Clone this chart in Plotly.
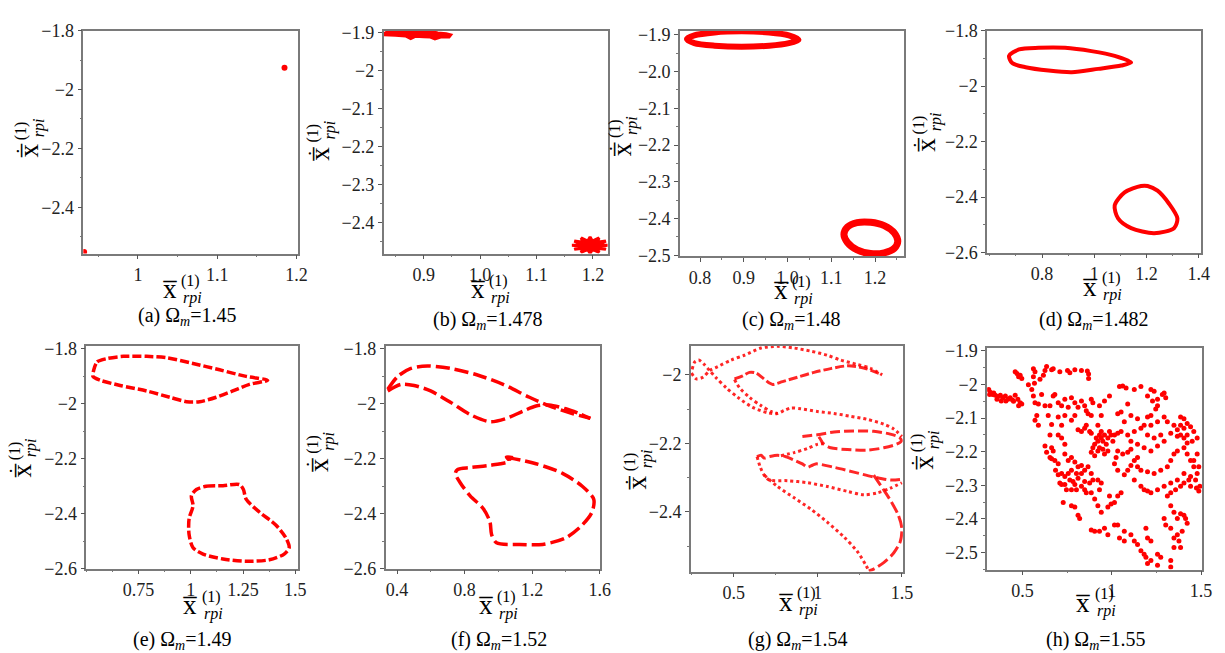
import plotly.graph_objects as go

W, H = 1225, 653
RED = 'rgb(255,0,0)'
FONT = 'Liberation Serif'
M = '\u2212'

# ---------------- data ----------------
# (a) Omega_m = 1.45 : two fixed points
a_x = [1.185, 0.932]
a_y = [-1.926, -2.552]

# (b) Omega_m = 1.478 : two star-like clusters (outline points)
b_up_x = [0.832, 0.855, 0.870, 0.885, 0.900, 0.910, 0.925, 0.940, 0.948,
          0.945, 0.930, 0.920, 0.912, 0.900, 0.885, 0.877, 0.868, 0.850, 0.832]
b_up_y = [-1.898, -1.897, -1.895, -1.897, -1.899, -1.896, -1.901, -1.903, -1.906,
          -1.912, -1.912, -1.917, -1.912, -1.911, -1.910, -1.916, -1.909, -1.907, -1.906]
b_lo_x = [1.227, 1.211, 1.223, 1.207, 1.211, 1.199, 1.195, 1.191, 1.179, 1.183, 1.167, 1.179,
          1.163, 1.179, 1.167, 1.183, 1.179, 1.191, 1.195, 1.199, 1.211, 1.207, 1.223, 1.211]
b_lo_y = [-2.460, -2.457, -2.449, -2.452, -2.441, -2.449, -2.438, -2.449, -2.441, -2.452, -2.449, -2.457,
          -2.460, -2.463, -2.471, -2.468, -2.479, -2.471, -2.482, -2.471, -2.479, -2.468, -2.471, -2.463]

# (c) Omega_m = 1.48 : two thick rings
c_up_x = [1.025, 1.003, 0.958, 0.895, 0.833, 0.787, 0.770, 0.787, 0.833, 0.895, 0.958, 1.003]
c_up_y = [-1.914, -1.902, -1.894, -1.891, -1.894, -1.902, -1.912, -1.923, -1.930, -1.933, -1.930, -1.923]
c_lo_x = [1.252, 1.244, 1.221, 1.190, 1.159, 1.137, 1.129, 1.137, 1.159, 1.190, 1.221, 1.244]
c_lo_y = [-2.462, -2.439, -2.419, -2.410, -2.411, -2.423, -2.443, -2.465, -2.485, -2.495, -2.493, -2.481]

# (d) Omega_m = 1.482 : two closed curves
d_up_x = [0.674, 0.712, 0.787, 0.888, 0.989, 1.078, 1.141, 1.103, 1.015, 0.914, 0.825, 0.737, 0.686]
d_up_y = [-1.891, -1.868, -1.862, -1.862, -1.874, -1.891, -1.915, -1.926, -1.938, -1.950, -1.944, -1.932, -1.917]
d_lo_x = [1.179, 1.116, 1.078, 1.091, 1.141, 1.229, 1.305, 1.318, 1.286, 1.242, 1.204]
d_lo_y = [-2.360, -2.383, -2.430, -2.477, -2.512, -2.530, -2.512, -2.477, -2.424, -2.377, -2.360]

# (e) Omega_m = 1.49
e_up_x = [0.536, 0.552, 0.599, 0.678, 0.789, 0.884, 1.011, 1.138, 1.265, 1.368,
          1.281, 1.201, 1.122, 1.043, 0.979, 0.900, 0.789, 0.662, 0.567, 0.532]
e_up_y = [-1.876, -1.847, -1.835, -1.827, -1.827, -1.832, -1.853, -1.876, -1.900, -1.914,
          -1.929, -1.953, -1.976, -1.992, -1.992, -1.976, -1.953, -1.933, -1.914, -1.900]
e_lo_x = [1.027, 1.074, 1.154, 1.233, 1.252, 1.265, 1.328, 1.407, 1.455, 1.471, 1.447, 1.376,
          1.265, 1.154, 1.059, 1.011, 0.992, 0.992, 1.011, 1.003]
e_lo_y = [-2.312, -2.300, -2.298, -2.294, -2.312, -2.347, -2.394, -2.441, -2.488, -2.524, -2.547, -2.568,
          -2.573, -2.565, -2.547, -2.524, -2.476, -2.418, -2.371, -2.335]

# (f) Omega_m = 1.52
f_a_x = [0.345, 0.404, 0.482, 0.580, 0.716, 0.872, 1.028, 1.184, 1.321, 1.438, 1.545]
f_a_y = [-1.947, -1.900, -1.871, -1.862, -1.871, -1.894, -1.929, -1.976, -2.012, -2.035, -2.053]
f_b_x = [0.345, 0.423, 0.501, 0.599, 0.716, 0.833, 0.950, 1.048, 1.145, 1.223, 1.301, 1.399, 1.477, 1.545]
f_b_y = [-1.953, -1.929, -1.933, -1.953, -1.994, -2.039, -2.065, -2.053, -2.027, -2.008, -2.004, -2.018, -2.035, -2.053]
f_c_x = [1.048, 1.223, 1.380, 1.497, 1.565, 1.555, 1.497, 1.399, 1.262, 1.126, 0.989, 0.960,
         0.950, 0.911, 0.833, 0.775, 0.745, 0.759, 0.833, 0.950, 1.067, 1.048, 1.087]
f_c_y = [-2.194, -2.218, -2.253, -2.300, -2.347, -2.394, -2.441, -2.488, -2.512, -2.512, -2.506, -2.476,
         -2.429, -2.382, -2.335, -2.288, -2.253, -2.239, -2.232, -2.224, -2.208, -2.194, -2.196]

# (g) Omega_m = 1.54 : several branches of the attractor
g_paths = [
    ([0.248, 0.277, 0.317, 0.356, 0.405, 0.484, 0.563, 0.662, 0.760, 0.859, 0.958, 1.056, 1.135, 1.234, 1.313, 1.382],
     [-1.995, -2.012, -2.007, -1.988, -1.976, -1.957, -1.943, -1.922, -1.917, -1.922, -1.931, -1.943, -1.957, -1.970, -1.981, -2.000]),
    ([0.252, 0.267, 0.291, 0.322, 0.356, 0.395, 0.455, 0.524, 0.612, 0.701, 0.760, 0.800, 0.839, 0.898, 0.997, 1.096, 1.194, 1.293, 1.392, 1.451, 1.500],
     [-1.984, -1.963, -1.957, -1.969, -1.988, -2.009, -2.038, -2.066, -2.095, -2.111, -2.113, -2.104, -2.097, -2.099, -2.107, -2.113, -2.121, -2.130, -2.144, -2.158, -2.180]),
    ([0.504, 0.553, 0.593, 0.632, 0.672, 0.711, 0.731, 0.790, 0.879, 0.977, 1.076, 1.175, 1.273, 1.382],
     [-2.012, -2.003, -1.993, -1.995, -2.009, -2.024, -2.028, -2.020, -2.007, -1.993, -1.982, -1.974, -1.980, -2.000]),
    ([0.504, 0.534, 0.593, 0.662, 0.721, 0.760],
     [-2.014, -2.038, -2.066, -2.090, -2.107, -2.113]),
    ([0.908, 0.958, 0.997, 1.096, 1.214, 1.332, 1.431, 1.486, 1.496, 1.466, 1.392, 1.293, 1.175, 1.076, 1.033, 1.013, 0.997],
     [-2.180, -2.177, -2.175, -2.167, -2.164, -2.165, -2.173, -2.183, -2.194, -2.203, -2.213, -2.220, -2.218, -2.213, -2.201, -2.186, -2.175]),
    ([0.780, 0.859, 0.938, 0.997, 1.033],
     [-2.236, -2.227, -2.215, -2.203, -2.201]),
    ([0.638, 0.662, 0.681, 0.711, 0.760, 0.810, 0.859, 0.908, 0.938, 0.962, 0.987, 1.096, 1.214, 1.332, 1.431, 1.500],
     [-2.239, -2.235, -2.243, -2.239, -2.235, -2.239, -2.249, -2.260, -2.270, -2.265, -2.260, -2.270, -2.284, -2.298, -2.307, -2.305]),
    ([0.638, 0.658, 0.681, 0.711, 0.820, 0.938, 1.056, 1.175, 1.273, 1.352, 1.431, 1.500],
     [-2.239, -2.270, -2.293, -2.307, -2.309, -2.315, -2.326, -2.340, -2.350, -2.345, -2.331, -2.315]),
    ([0.681, 0.760, 0.859, 0.958, 1.056, 1.155, 1.234, 1.283, 1.303],
     [-2.293, -2.326, -2.359, -2.392, -2.430, -2.473, -2.515, -2.553, -2.572]),
    ([1.332, 1.392, 1.441, 1.480, 1.500, 1.490, 1.451, 1.392, 1.332, 1.303],
     [-2.293, -2.336, -2.374, -2.411, -2.449, -2.487, -2.520, -2.548, -2.567, -2.572]),
]
g_styles = ['3px,3px', '3px,3px', '9px,3px', '3px,3px', '10px,4px', '3px,3px',
            '10px,4px', '3px,3px', '3px,3px', '12px,4px']

# (h) Omega_m = 1.55 : chaotic scatter
h_x = [0.311, 0.320, 0.333, 0.348, 0.363, 0.376, 0.389, 0.404, 0.419, 0.431, 0.444, 0.459, 0.474, 0.487, 0.496,
       0.478, 0.450, 0.407, 0.381, 0.357, 0.339, 0.315,
       0.459, 0.469, 0.487, 0.496, 0.561, 0.570, 0.561, 0.626, 0.617, 0.672, 0.709, 0.752, 0.765, 0.793,
       0.830, 0.863, 0.870, 0.870, 0.635, 0.663, 0.598, 0.533, 0.567, 0.478,
       0.552, 0.561, 0.570, 0.589, 0.607, 0.626, 0.654, 0.672, 0.681, 0.700, 0.719, 0.737, 0.756, 0.774,
       0.793, 0.811, 0.830, 0.848, 0.857, 0.885, 0.894, 0.885, 0.867, 0.931, 0.941, 0.959, 0.580, 0.570,
       0.589, 0.644, 0.663, 0.700, 0.719, 0.737, 0.774, 0.793, 0.811, 0.830, 0.848, 0.857, 0.876, 0.885,
       0.922, 0.700, 0.719, 0.737, 0.654,
       0.913, 0.922, 0.931, 0.941, 0.950, 0.959, 0.969, 0.978, 0.931, 0.950, 0.959, 0.978, 0.996, 0.987,
       1.015, 0.941, 0.904, 0.894, 0.885, 0.904, 0.922, 1.006, 1.033, 1.052,
       0.737, 0.756, 0.774, 0.793, 0.811, 0.830, 0.802, 0.774, 0.756, 0.737, 0.765, 0.783, 0.811, 0.830,
       0.848, 0.867, 0.885, 0.894, 0.876, 0.848, 0.830, 0.802, 0.774, 0.746, 0.719, 0.700, 0.681, 0.672,
       0.663, 0.626, 0.635, 0.654, 0.663, 0.685, 0.700, 0.709, 0.719, 0.737, 0.793, 0.848, 0.857, 0.885,
       0.922, 0.941, 0.931, 0.904, 0.922, 0.941, 0.987, 0.978, 0.996, 1.015, 1.033, 1.052,
       0.728, 0.774, 0.793, 0.811, 0.820, 0.885, 0.904, 0.931, 0.959, 0.978, 1.015, 1.033, 1.070, 1.043,
       1.070, 1.107, 1.126, 1.144, 1.163, 1.181, 1.191, 1.200, 1.219, 1.256, 1.330, 1.330, 1.274, 1.256,
       1.219, 1.200, 1.191,
       0.987, 1.043, 1.061, 1.080, 1.126, 1.163, 1.089, 1.052, 1.033, 1.070, 1.107, 1.144, 1.181, 1.219,
       1.237, 1.200, 1.228, 1.256, 1.283, 1.293, 1.302, 1.256, 1.246, 1.219, 1.200, 1.293, 1.311, 1.348,
       1.367, 1.385, 1.404, 1.422, 1.367, 1.330, 1.293, 1.256, 1.219, 1.181, 1.144, 1.107, 1.089, 1.126,
       1.163, 1.200, 1.237, 1.274, 1.219, 1.256, 1.144, 1.126, 1.107, 1.089, 1.144, 1.163, 1.200, 1.237,
       1.274, 1.311, 1.330, 1.348, 1.367, 1.404, 1.422, 1.441, 1.459, 1.478, 1.469, 1.441, 1.404, 1.367,
       1.330, 1.293, 1.256, 1.219, 1.200, 1.181, 1.163, 1.126, 1.070, 1.033, 1.015, 1.024, 1.061, 1.089,
       1.107, 1.033,
       1.385, 1.404, 1.422, 1.441, 1.459, 1.478, 1.450, 1.422, 1.404, 1.385, 1.478, 1.459, 1.487, 1.431,
       1.404, 1.385, 1.357, 1.330, 1.311, 1.441, 1.474, 1.493, 1.487, 1.330, 1.348, 1.367, 1.385, 1.404,
       1.422, 1.394, 1.367, 1.348, 1.330, 1.293, 1.302, 1.348, 1.385, 1.376, 1.413]
h_y = [-2.015, -2.023, -2.030, -2.032, -2.036, -2.032, -2.039, -2.034, -2.044, -2.039, -2.046, -2.032, -2.044, -2.054, -2.058,
       -2.063, -2.050, -2.049, -2.049, -2.044, -2.025, -2.030,
       -1.962, -1.967, -1.972, -1.982, -1.953, -1.962, -1.977, -1.958, -1.972, -1.953, -1.962, -1.958, -1.965, -1.956,
       -1.958, -1.960, -1.969, -1.982, -1.946, -1.956, -1.984, -2.001, -1.996, -1.977,
       -2.015, -2.034, -2.054, -2.058, -2.030, -2.063, -2.063, -2.034, -2.030, -2.054, -2.063, -2.044, -2.068, -2.039,
       -2.054, -2.068, -2.049, -2.063, -2.078, -2.044, -2.054, -2.092, -2.087, -2.063, -2.092, -2.049, -2.092, -2.106,
       -2.121, -2.092, -2.119, -2.097, -2.121, -2.092, -2.106, -2.092, -2.135, -2.140, -2.130, -2.121, -2.140, -2.145,
       -2.121, -2.150, -2.159, -2.178, -2.150,
       -2.159, -2.169, -2.150, -2.159, -2.169, -2.150, -2.178, -2.159, -2.188, -2.193, -2.207, -2.198, -2.150, -2.140,
       -2.150, -2.140, -2.178, -2.188, -2.202, -2.212, -2.198, -2.169, -2.145, -2.140,
       -2.207, -2.226, -2.217, -2.231, -2.245, -2.241, -2.265, -2.255, -2.265, -2.274, -2.284, -2.289, -2.279, -2.265,
       -2.255, -2.245, -2.265, -2.284, -2.293, -2.289, -2.303, -2.313, -2.313, -2.313, -2.265, -2.236, -2.226, -2.198,
       -2.188, -2.183, -2.202, -2.217, -2.221, -2.255, -2.269, -2.293, -2.298, -2.298, -2.298, -2.313, -2.322, -2.322,
       -2.284, -2.293, -2.313, -2.341, -2.361, -2.380, -2.332, -2.365, -2.356, -2.351, -2.332, -2.322,
       -2.351, -2.361, -2.365, -2.389, -2.399, -2.433, -2.437, -2.437, -2.428, -2.447, -2.418, -2.418, -2.437, -2.457,
       -2.466, -2.447, -2.466, -2.476, -2.495, -2.505, -2.514, -2.533, -2.524, -2.538, -2.543, -2.524, -2.514, -2.505,
       -2.466, -2.457, -2.428,
       -2.034, -2.006, -2.004, -2.010, -2.015, -2.006, -2.058, -2.082, -2.087, -2.111, -2.092, -2.102, -2.121, -2.015,
       -2.020, -2.034, -2.049, -2.044, -2.030, -2.025, -2.039, -2.063, -2.073, -2.092, -2.097, -2.097, -2.111, -2.121,
       -2.135, -2.150, -2.159, -2.174, -2.154, -2.145, -2.169, -2.183, -2.198, -2.188, -2.178, -2.169, -2.150, -2.140,
       -2.130, -2.150, -2.159, -2.150, -2.121, -2.111, -2.217, -2.226, -2.241, -2.255, -2.245, -2.255, -2.260, -2.265,
       -2.255, -2.245, -2.226, -2.207, -2.198, -2.188, -2.207, -2.226, -2.245, -2.265, -2.284, -2.274, -2.265, -2.284,
       -2.293, -2.303, -2.313, -2.322, -2.317, -2.313, -2.303, -2.284, -2.269, -2.255, -2.236, -2.217, -2.207, -2.202,
       -2.193, -2.198,
       -2.097, -2.102, -2.116, -2.126, -2.140, -2.159, -2.169, -2.150, -2.130, -2.121, -2.207, -2.226, -2.245, -2.284,
       -2.293, -2.303, -2.313, -2.322, -2.332, -2.303, -2.308, -2.303, -2.317, -2.361, -2.380, -2.399, -2.385, -2.389,
       -2.413, -2.437, -2.447, -2.457, -2.428, -2.399, -2.418, -2.485, -2.485, -2.466, -2.399]

captions = ['(a)', '(b)', '(c)', '(d)', '(e)', '(f)', '(g)', '(h)']
omegas = ['1.45', '1.478', '1.48', '1.482', '1.49', '1.52', '1.54', '1.55']

# tick values and labels
x_tickvals = [[1, 1.1, 1.2], [0.9, 1.0, 1.1, 1.2], [0.8, 0.9, 1.0, 1.1, 1.2], [0.8, 1, 1.2, 1.4],
              [0.75, 1, 1.25, 1.5], [0.4, 0.8, 1.2, 1.6], [0.5, 1, 1.5], [0.5, 1, 1.5]]
x_ticktext = [['1', '1.1', '1.2'], ['0.9', '1.0', '1.1', '1.2'], ['0.8', '0.9', '1.0', '1.1', '1.2'],
              ['0.8', '1', '1.2', '1.4'], ['0.75', '1', '1.25', '1.5'], ['0.4', '0.8', '1.2', '1.6'],
              ['0.5', '1', '1.5'], ['0.5', '1', '1.5']]
y_tickvals = [[-1.8, -2, -2.2, -2.4], [-1.9, -2, -2.1, -2.2, -2.3, -2.4], [-1.9, -2.0, -2.1, -2.2, -2.3, -2.4, -2.5],
              [-1.8, -2, -2.2, -2.4, -2.6], [-1.8, -2, -2.2, -2.4, -2.6], [-1.8, -2, -2.2, -2.4, -2.6],
              [-2, -2.2, -2.4], [-1.9, -2, -2.1, -2.2, -2.3, -2.4, -2.5]]
y_ticktext = [[M + '1.8', M + '2', M + '2.2', M + '2.4'],
              [M + '1.9', M + '2', M + '2.1', M + '2.2', M + '2.3', M + '2.4'],
              [M + '1.9', M + '2.0', M + '2.1', M + '2.2', M + '2.3', M + '2.4', M + '2.5'],
              [M + '1.8', M + '2', M + '2.2', M + '2.4', M + '2.6'],
              [M + '1.8', M + '2', M + '2.2', M + '2.4', M + '2.6'],
              [M + '1.8', M + '2', M + '2.2', M + '2.4', M + '2.6'],
              [M + '2', M + '2.2', M + '2.4'],
              [M + '1.9', M + '2', M + '2.1', M + '2.2', M + '2.3', M + '2.4', M + '2.5']]
x_minor = [0.05, 0.05, 0.05, 0.1, 0.125, 0.2, 0.25, 0.25]
y_minor = [0.1, 0.05, 0.05, 0.1, 0.1, 0.1, 0.1, 0.05]

# ---------------- layout geometry ----------------
# plot boxes in pixels: left, right, top, bottom
boxes = [(76, 293, 13, 243), (379, 605, 13, 243), (678, 904, 13, 246), (988, 1204, 13, 242),
         (79, 293, 338, 568), (381, 597, 338, 568), (689, 903, 338, 571), (988, 1205, 340, 569)]
xranges = [(0.931, 1.2025), (0.829, 1.226), (0.754, 1.266), (0.59, 1.409),
           (0.5, 1.515), (0.332, 1.6), (0.244, 1.506), (0.302, 1.506)]
yranges = [(-2.557, -1.8), (-2.482, -1.895), (-2.503, -1.889), (-2.6, -1.8),
           (-2.6, -1.788), (-2.6, -1.788), (-2.574, -1.915), (-2.551, -1.89)]
xtitle_pos = [(163, 283), (474, 283), (780, 284), (1092, 280), (184, 609), (482, 609), (785, 605), (1085, 606)]
ytitle_pos = [(24, 137), (318, 140), (622, 135), (929, 131), (17, 467), (317, 461), (638, 479), (927, 459)]
caption_pos = [(181, 308), (484, 312), (790, 312), (1096, 312), (176, 642), (495, 642), (797, 642), (1098, 642)]

fig = go.Figure()


def ax(i):
    return ('x' if i == 0 else 'x%d' % (i + 1)), ('y' if i == 0 else 'y%d' % (i + 1))


def add_line(i, xs, ys, width=3.5, dash='solid', closed=False, color=RED, shape='spline'):
    xa, ya = ax(i)
    xs = list(xs) + ([xs[0]] if closed else [])
    ys = list(ys) + ([ys[0]] if closed else [])
    fig.add_trace(go.Scatter(x=xs, y=ys, mode='lines', xaxis=xa, yaxis=ya,
                             line=dict(color=color, width=width, dash=dash, shape=shape, smoothing=0.8),
                             showlegend=False, hoverinfo='skip'))


def add_poly(i, xs, ys):
    xa, ya = ax(i)
    fig.add_trace(go.Scatter(x=list(xs) + [xs[0]], y=list(ys) + [ys[0]], mode='lines', fill='toself',
                             fillcolor=RED, xaxis=xa, yaxis=ya, line=dict(color=RED, width=3),
                             showlegend=False, hoverinfo='skip'))


def add_pts(i, xs, ys, size=5):
    xa, ya = ax(i)
    fig.add_trace(go.Scatter(x=xs, y=ys, mode='markers', xaxis=xa, yaxis=ya,
                             marker=dict(color=RED, size=size, line=dict(width=0)),
                             showlegend=False, hoverinfo='skip'))


# (a)
add_pts(0, a_x, a_y, size=6)
# (b)
add_poly(1, b_up_x, b_up_y)
add_poly(1, b_lo_x, b_lo_y)
# (c)
add_line(2, c_up_x, c_up_y, width=6, closed=True)
add_line(2, c_lo_x, c_lo_y, width=7, closed=True)
# (d)
add_line(3, d_up_x, d_up_y, width=4, closed=True)
add_line(3, d_lo_x, d_lo_y, width=4, closed=True)
# (e)
add_line(4, e_up_x, e_up_y, width=3.5, dash='9px,3px', closed=True)
add_line(4, e_lo_x, e_lo_y, width=3.5, dash='9px,3px', closed=True)
# (f)
add_line(5, f_a_x, f_a_y, width=3.5, dash='14px,5px')
add_line(5, f_b_x, f_b_y, width=3.5, dash='14px,5px')
add_line(5, f_c_x, f_c_y, width=3.5, dash='14px,5px')
# (g)
for (gx, gy), st in zip(g_paths, g_styles):
    add_line(6, gx, gy, width=3, dash=st, color='rgba(255,0,0,0.85)')
# (h)
add_pts(7, h_x, h_y, size=5)

layout = dict(width=W, height=H, margin=dict(l=0, r=0, t=0, b=0),
              paper_bgcolor='white', plot_bgcolor='white', showlegend=False,
              font=dict(family=FONT, size=17, color='#222'))
annotations = []


def px2paper(px, py):
    return px / W, 1 - py / H


def ann(text, px, py, size, angle=0):
    x, y = px2paper(px, py)
    return dict(text=text, x=x, y=y, xref='paper', yref='paper', showarrow=False,
                font=dict(family=FONT, size=size, color='black'), textangle=angle,
                xanchor='center', yanchor='middle')


for i in range(8):
    l, r, t, b = boxes[i]
    xa, ya = ax(i)
    xname = 'xaxis' if i == 0 else 'xaxis%d' % (i + 1)
    yname = 'yaxis' if i == 0 else 'yaxis%d' % (i + 1)
    common = dict(showgrid=False, zeroline=False, showline=True, mirror=True, linecolor='#7a7a7a',
                  linewidth=1.5, ticks='outside', ticklen=4, tickwidth=1, tickcolor='#555',
                  tickfont=dict(family=FONT, size=18, color='#222'), fixedrange=True,
                  tickmode='array')
    x0, y1 = px2paper(l, t)
    x1, y0 = px2paper(r, b)
    layout[xname] = dict(common, domain=[x0, x1], range=list(xranges[i]), anchor=ya,
                         tickvals=x_tickvals[i], ticktext=x_ticktext[i],
                         minor=dict(ticks='outside', ticklen=2, tickcolor='#777', tickmode='linear',
                                    dtick=x_minor[i], tick0=x_tickvals[i][0]))
    layout[yname] = dict(common, domain=[y0, y1], range=list(yranges[i]), anchor=xa,
                         tickvals=y_tickvals[i], ticktext=y_ticktext[i],
                         minor=dict(ticks='outside', ticklen=2, tickcolor='#777', tickmode='linear',
                                    dtick=y_minor[i], tick0=y_tickvals[i][0]))
    # x-axis title
    cx, cy = xtitle_pos[i]
    annotations.append(ann('x\u0305', cx, cy - 3, 27))
    annotations.append(ann('(1)', cx + 21, cy - 12, 16))
    annotations.append(ann('<i>rpi</i>', cx + 23, cy + 6, 16))
    # y-axis title (rotated)
    cx, cy = ytitle_pos[i]
    annotations.append(ann('x\u0305', cx - 3, cy, 27, angle=-90))
    annotations.append(ann('\u02d9', cx - 8, cy, 22, angle=-90))
    annotations.append(ann('(1)', cx - 10, cy - 21, 16, angle=-90))
    annotations.append(ann('<i>rpi</i>', cx + 7, cy - 24, 16, angle=-90))
    # caption
    cx, cy = caption_pos[i]
    annotations.append(ann('%s \u03a9<sub><i>m</i></sub>=%s' % (captions[i], omegas[i]), cx, cy, 20))

layout['annotations'] = annotations
fig.update_layout(**layout)
fig.write_html('out.html')
